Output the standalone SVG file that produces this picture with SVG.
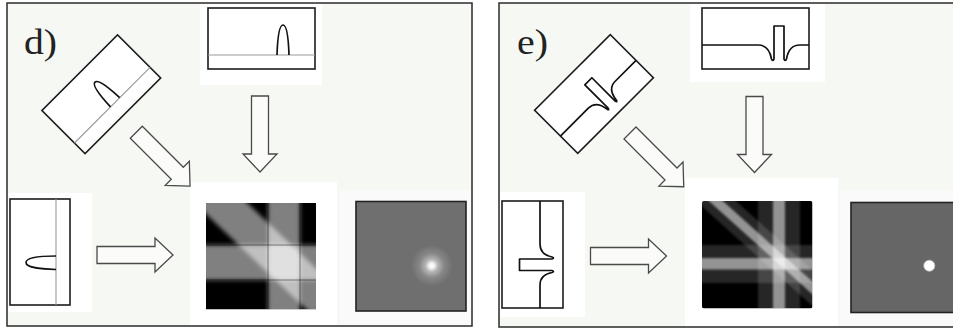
<svg xmlns="http://www.w3.org/2000/svg" width="953" height="329" viewBox="0 0 953 329">
  <style>
    .frame{fill:#f5f8f3;stroke:#2b2b2b;stroke-width:1.5}
    .pane{fill:#fff}
    .pane-soft{fill:#fafafa}
    .box{fill:#fff;stroke:#1c1c1c;stroke-width:1.6}
    .base{fill:none;stroke:#9a9a9a;stroke-width:1.1}
    .curve{fill:none;stroke:#111;stroke-width:1.7;stroke-linejoin:round}
    .label{font-family:"Liberation Serif","Times New Roman",serif;font-size:35px;fill:#222}
    .arrow{fill:#fbfcfa;stroke:#4a4a4a;stroke-width:1.3}
    .band{fill:#fff;fill-opacity:.5}
    .halo{fill:#fff;fill-opacity:.15}
  </style>
  <defs>
    <!-- hollow block arrow pointing along +x, tail centred on the origin -->
    <path id="arrow" d="M0,-8.5H58V-17L76,0L58,17V8.5H0Z"/>
    <clipPath id="clip-d"><rect x="206" y="203" width="110" height="106.5"/></clipPath>
    <clipPath id="clip-e"><rect x="702" y="201" width="110.5" height="107.5" rx="2"/></clipPath>
    <filter id="soft" x="-10%" y="-10%" width="120%" height="120%"><feGaussianBlur stdDeviation="2"/></filter>
    <filter id="soft-e" x="-10%" y="-10%" width="120%" height="120%"><feGaussianBlur stdDeviation="0.8"/></filter>
    <radialGradient id="glow" cx="431.7" cy="265.7" r="21" gradientUnits="userSpaceOnUse">
      <stop offset="0" stop-color="#ffffff"/>
      <stop offset="0.12" stop-color="#f4f4f4"/>
      <stop offset="0.3" stop-color="#b4b4b4"/>
      <stop offset="0.6" stop-color="#868686"/>
      <stop offset="1" stop-color="#6f6f6f"/>
    </radialGradient>
  </defs>

  <rect width="953" height="329" fill="#fff"/>

  <!-- ===== panel d ===== -->
  <g id="panel-d">
    <rect class="frame" x="7" y="3" width="465" height="323"/>
    <rect class="pane" x="200" y="4" width="122" height="81"/>
    <rect class="pane" x="190" y="182" width="147" height="143"/>
    <rect class="pane" x="8" y="193" width="84" height="119"/>
    <rect class="pane-soft" x="340" y="190" width="131" height="135"/>

    <g id="d-label">
      <text class="label" x="24" y="54" textLength="33" lengthAdjust="spacingAndGlyphs">d)</text>
    </g>

    <g id="d-profile-top">
      <rect class="box" x="208" y="8" width="107" height="61"/>
      <path class="base" d="M208,55H315"/>
      <path class="curve" d="M277,55C277.5,40 279,25 283,25C287,25 288.5,40 289,55"/>
    </g>

    <g id="d-profile-diag" transform="translate(101.3,94.2) rotate(-45)">
      <rect class="box" x="-53.5" y="-30.5" width="107" height="61"/>
      <path class="base" d="M-53.5,15.5H53.5"/>
      <path class="curve" d="M-2.5,15.5C-2,2 -0.5,-13 4,-13C8.5,-13 10,2 10.5,15.5"/>
    </g>

    <g id="d-profile-left">
      <rect class="box" x="10" y="199" width="60" height="106"/>
      <path class="base" d="M56,199V305"/>
      <path class="curve" d="M56,256C42,256 26,257 26,262.5C26,268 42,269 56,269.5"/>
    </g>

    <g id="d-sum">
      <g clip-path="url(#clip-d)">
        <rect x="206" y="203" width="110" height="106.5" fill="#000"/>
        <g filter="url(#soft)">
          <rect class="band" x="268" y="190" width="32" height="130"/>
          <rect class="band" x="195" y="245" width="130" height="35"/>
          <polygon class="band" points="190,148.5 330,281.6 330,331.8 190,198.8"/>
        </g>
        <path d="M268,203V309.5M300,203V309.5M206,245H316M206,280H316" fill="none" stroke="#000" stroke-opacity=".45" stroke-width="1"/>
      </g>
    </g>

    <g id="d-result">
      <rect x="356" y="201.5" width="110" height="109.5" fill="#6f6f6f" stroke="#222" stroke-width="1.6"/>
      <circle cx="431.7" cy="265.7" r="21" fill="url(#glow)"/>
    </g>

    <g id="d-connectors">
      <use href="#arrow" class="arrow" transform="translate(260,96) rotate(90)"/>
      <use href="#arrow" class="arrow" transform="translate(136.3,132.3) rotate(45)"/>
      <use href="#arrow" class="arrow" transform="translate(97,255)"/>
    </g>
  </g>

  <!-- ===== panel e ===== -->
  <g id="panel-e">
    <rect class="frame" x="499" y="3" width="470" height="324"/>
    <rect class="pane" x="690" y="4" width="135" height="78"/>
    <rect class="pane" x="685" y="178" width="153" height="148"/>
    <rect class="pane" x="500" y="192" width="85" height="125"/>
    <rect class="pane-soft" x="840" y="190" width="113" height="136"/>

    <g id="e-label">
      <text class="label" x="517" y="54" textLength="31" lengthAdjust="spacingAndGlyphs">e)</text>
    </g>

    <g id="e-profile-top">
      <rect class="box" x="702" y="8" width="107" height="61"/>
      <path class="curve" d="M702,45H758C766,45 770,50 771.5,59Q772.5,62 774,59V26H784V59Q785.5,62 786.5,59C788,50 792,45 800,45H809"/>
    </g>

    <g id="e-profile-diag" transform="translate(594,94) rotate(-45)">
      <rect class="box" x="-53.5" y="-30.5" width="107" height="61"/>
      <path class="curve" d="M-53.5,6H-14C-6,6 -2.5,11 -1.5,20Q-0.75,23 0,20V-13H10V20Q10.75,23 11.5,20C12.5,11 16,6 24,6H53.5"/>
    </g>

    <g id="e-profile-left">
      <rect class="box" x="502" y="201" width="61" height="107"/>
      <path class="curve" d="M540,201V244C540,251 544,255.5 552,257Q555,258 552,259H519.5V270.5H552Q555,271.5 552,272.5C544,274 540,278 540,285V308"/>
    </g>

    <g id="e-sum">
      <g clip-path="url(#clip-e)">
        <rect x="702" y="201" width="110.5" height="107.5" fill="#000"/>
        <g filter="url(#soft-e)">
          <rect class="halo" x="758" y="195" width="42" height="120"/>
          <rect class="halo" x="695" y="245" width="125" height="38"/>
          <polygon class="halo" points="690,159.75 820,276.75 820,312.75 690,195.75"/>
          <rect class="band" x="773" y="195" width="12" height="120"/>
          <rect class="band" x="695" y="258" width="125" height="11.5"/>
          <polygon class="band" points="690,171.45 820,288.45 820,301.05 690,184.05"/>
        </g>
      </g>
    </g>

    <g id="e-result">
      <rect x="851" y="202.5" width="120" height="110" fill="#666" stroke="#222" stroke-width="1.6"/>
      <circle cx="929.3" cy="265.7" r="5.7" fill="#fff" stroke="#999" stroke-width=".8"/>
    </g>

    <g id="e-connectors">
      <use href="#arrow" class="arrow" transform="translate(754.5,96.5) rotate(90)"/>
      <use href="#arrow" class="arrow" transform="translate(630,133) rotate(45)"/>
      <use href="#arrow" class="arrow" transform="translate(590.5,256)"/>
    </g>
  </g>
</svg>
